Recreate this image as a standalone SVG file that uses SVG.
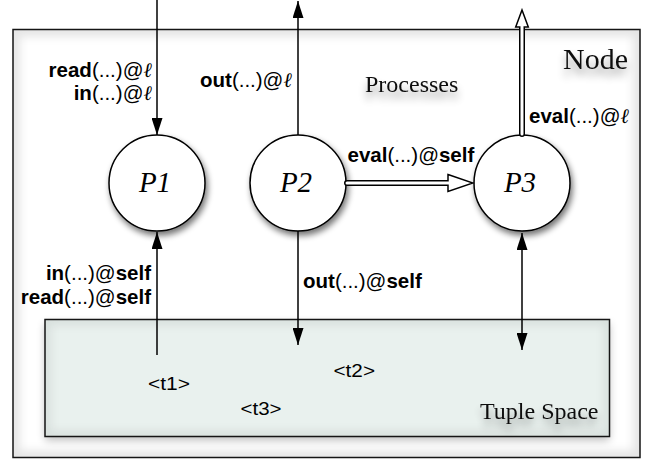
<svg xmlns="http://www.w3.org/2000/svg" width="657" height="463" viewBox="0 0 657 463">
  <style>
    .frame { fill: none; stroke: #151515; stroke-width: 1.5; }
    .proc { fill: #fff; stroke: #000; stroke-width: 1.5; }
    .pname { font-family: "Liberation Serif", "Times New Roman", serif; font-style: italic; font-size: 29px; fill: #000; text-anchor: middle; }
    .title { font-family: "Liberation Serif", "Times New Roman", serif; fill: #111; }
    .op { font-family: "Liberation Sans", Arial, sans-serif; font-size: 20.5px; fill: #000; }
    .op .b { font-weight: bold; }
    .op .ell { font-family: "Liberation Serif", "DejaVu Serif", serif; font-style: italic; }
    .tuple { font-family: "Liberation Sans", Arial, sans-serif; font-size: 18px; fill: #000; }
    .wire { fill: none; stroke: #000; stroke-width: 1.5; }
    .pipe { fill: none; stroke: #000; stroke-width: 6; stroke-linecap: round; }
    .pipe-in { fill: none; stroke: #fff; stroke-width: 3; stroke-linecap: round; }
  </style>
  <defs>
    <marker id="head" viewBox="0 0 17 11" refX="17" refY="5.5" markerWidth="17" markerHeight="11" markerUnits="userSpaceOnUse" orient="auto-start-reverse">
      <path d="M0,0 L17,5.5 L0,11 Z" fill="#000"/>
    </marker>
    <marker id="hollow-lg" viewBox="-1 -10 28 20" refX="0" refY="0" markerWidth="28" markerHeight="20" markerUnits="userSpaceOnUse" orient="auto">
      <path d="M0,-8.5 L25,0 L0,8.5 Z" fill="#fff" stroke="#000" stroke-width="1.5" stroke-linejoin="miter"/>
    </marker>
    <marker id="hollow-sm" viewBox="-1 -8 20 16" refX="0" refY="0" markerWidth="20" markerHeight="16" markerUnits="userSpaceOnUse" orient="auto">
      <path d="M0,-6.3 L17,0 L0,6.3 Z" fill="#fff" stroke="#000" stroke-width="1.5"/>
    </marker>
    <filter id="shadow" x="-30%" y="-30%" width="160%" height="170%">
      <feGaussianBlur in="SourceAlpha" stdDeviation="3"/>
      <feOffset dx="2" dy="4" result="b"/>
      <feComponentTransfer><feFuncA type="linear" slope="0.55"/></feComponentTransfer>
      <feMerge><feMergeNode/><feMergeNode in="SourceGraphic"/></feMerge>
    </filter>
    <filter id="panel-shadow" x="-5%" y="-10%" width="110%" height="130%">
      <feGaussianBlur in="SourceAlpha" stdDeviation="4"/>
      <feOffset dx="0" dy="4"/>
      <feComponentTransfer><feFuncA type="linear" slope="0.25"/></feComponentTransfer>
      <feMerge><feMergeNode/><feMergeNode in="SourceGraphic"/></feMerge>
    </filter>
    <filter id="text-shadow" x="-20%" y="-50%" width="140%" height="250%">
      <feGaussianBlur in="SourceAlpha" stdDeviation="4"/>
      <feOffset dx="0" dy="7"/>
      <feComponentTransfer><feFuncA type="linear" slope="0.4"/></feComponentTransfer>
      <feMerge><feMergeNode/><feMergeNode in="SourceGraphic"/></feMerge>
    </filter>
    <filter id="soft" x="-5%" y="-5%" width="110%" height="110%">
      <feGaussianBlur stdDeviation="4"/>
    </filter>
    <clipPath id="node-clip"><rect x="13" y="29.5" width="627" height="428"/></clipPath>
    <clipPath id="space-clip"><rect x="45" y="319.5" width="564.5" height="117"/></clipPath>
  </defs>

  <rect width="657" height="463" fill="#fff"/>

  <!-- enclosing node -->
  <g id="node">
    <rect x="13" y="29.5" width="627" height="428" fill="#fff"/>
    <rect x="13" y="29.5" width="627" height="428" fill="none" stroke="#000" stroke-opacity="0.1" stroke-width="14" filter="url(#soft)" clip-path="url(#node-clip)"/>
    <rect class="frame" x="13" y="29.5" width="627" height="428"/>
    <text class="title" x="563" y="69" font-size="30" filter="url(#text-shadow)">Node</text>
    <text class="title" x="365" y="92" font-size="24" filter="url(#text-shadow)">Processes</text>
  </g>

  <!-- shared tuple space -->
  <g id="tuple-space">
    <rect x="45" y="319.5" width="564.5" height="117" fill="#e9f1ee" filter="url(#panel-shadow)"/>
    <rect x="45" y="319.5" width="564.5" height="117" fill="none" stroke="#000" stroke-opacity="0.07" stroke-width="12" filter="url(#soft)" clip-path="url(#space-clip)"/>
    <rect class="frame" x="45" y="319.5" width="564.5" height="117" stroke="#222"/>
    <text class="tuple" x="148" y="390" textLength="42" lengthAdjust="spacingAndGlyphs">&lt;t1&gt;</text>
    <text class="tuple" x="333.5" y="377" textLength="41.5" lengthAdjust="spacingAndGlyphs">&lt;t2&gt;</text>
    <text class="tuple" x="240.5" y="415" textLength="41" lengthAdjust="spacingAndGlyphs">&lt;t3&gt;</text>
    <text class="title" x="480" y="419" font-size="24" filter="url(#text-shadow)">Tuple Space</text>
  </g>

  <!-- processes -->
  <g id="p1">
    <circle class="proc" cx="157" cy="183" r="48" filter="url(#shadow)"/>
    <text class="pname" x="155" y="192">P1</text>
  </g>
  <g id="p2">
    <circle class="proc" cx="298" cy="183" r="48" filter="url(#shadow)"/>
    <text class="pname" x="296" y="192">P2</text>
  </g>
  <g id="p3">
    <circle class="proc" cx="522" cy="183" r="48" filter="url(#shadow)"/>
    <text class="pname" x="520" y="192">P3</text>
  </g>

  <!-- connectors and their operation labels -->
  <g id="connectors">
    <!-- remote read/in into P1 -->
    <line class="wire" x1="157" y1="0" x2="157" y2="135" marker-end="url(#head)"/>
    <!-- remote out from P2 -->
    <line class="wire" x1="298" y1="135" x2="298" y2="1" marker-end="url(#head)"/>
    <!-- remote eval from P3 -->
    <line class="pipe" x1="522" y1="134" x2="522" y2="27" marker-end="url(#hollow-sm)"/>
    <line class="pipe-in" x1="522" y1="134" x2="522" y2="26"/>
    <!-- local eval P2 -> P3 -->
    <line class="pipe" x1="347" y1="183" x2="448" y2="183" marker-end="url(#hollow-lg)"/>
    <line class="pipe-in" x1="347" y1="183" x2="449" y2="183"/>
    <!-- local in/read: tuple space -> P1 -->
    <line class="wire" x1="157" y1="355" x2="157" y2="232" marker-end="url(#head)"/>
    <!-- local out: P2 -> tuple space -->
    <line class="wire" x1="298" y1="231" x2="298" y2="345" marker-end="url(#head)"/>
    <!-- P3 <-> tuple space -->
    <line class="wire" x1="522" y1="233" x2="522" y2="350" marker-start="url(#head)" marker-end="url(#head)"/>

    <text class="op" x="152" y="77" text-anchor="end"><tspan class="b">read</tspan>(...)@<tspan class="ell">ℓ</tspan></text>
    <text class="op" x="152" y="100" text-anchor="end"><tspan class="b">in</tspan>(...)@<tspan class="ell">ℓ</tspan></text>
    <text class="op" x="200" y="87"><tspan class="b">out</tspan>(...)@<tspan class="ell">ℓ</tspan></text>
    <text class="op" x="529" y="123"><tspan class="b">eval</tspan>(...)@<tspan class="ell">ℓ</tspan></text>
    <text class="op" x="347.5" y="162"><tspan class="b">eval</tspan>(...)@<tspan class="b">self</tspan></text>
    <text class="op" x="151" y="280" text-anchor="end"><tspan class="b">in</tspan>(...)@<tspan class="b">self</tspan></text>
    <text class="op" x="151" y="304" text-anchor="end"><tspan class="b">read</tspan>(...)@<tspan class="b">self</tspan></text>
    <text class="op" x="303" y="288"><tspan class="b">out</tspan>(...)@<tspan class="b">self</tspan></text>
  </g>
</svg>
